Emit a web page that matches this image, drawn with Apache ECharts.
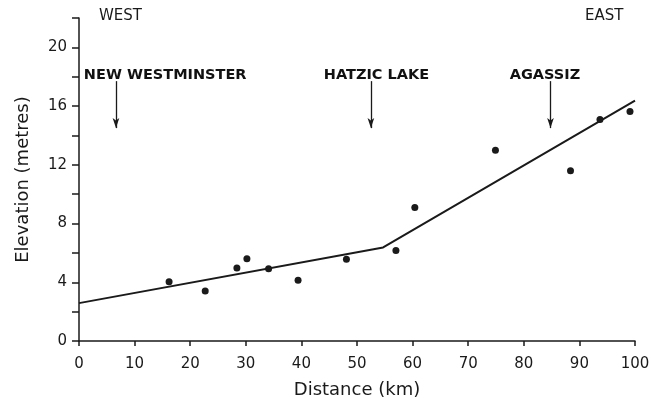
<!DOCTYPE html>
<html><head><meta charset="utf-8">
<script src="https://cdn.jsdelivr.net/npm/echarts@6/dist/echarts.min.js"></script>
<style>html,body{margin:0;padding:0;background:#fff}#c{width:653px;height:406px}</style>
</head><body><div id="c"></div>
<script>
const distance = [16.2, 22.7, 28.4, 30.2, 34.1, 39.4, 48.1, 57.0, 60.4, 74.9, 88.4, 93.7, 99.1];
const elevation = [4.03, 3.4, 4.97, 5.6, 4.92, 4.14, 5.57, 6.17, 9.1, 12.99, 11.59, 15.08, 15.63];
const fitX = [0, 54.7, 100];
const fitY = [2.58, 6.37, 16.37];
const placeNames = ['NEW WESTMINSTER', 'HATZIC LAKE', 'AGASSIZ'];
const placeX = [6.65, 52.5, 84.8];
const labelX = [15.5, 53.5, 83.8];
const arrowTop = 17.7, arrowTip = 14.5, labelY = 18.1;
const xTicks = [0,10,20,30,40,50,60,70,80,90,100];
const yLabels = [0,4,8,12,16,20];

const font = 'DejaVu Sans';
const ink = '#1a1a1a';
const chart = echarts.init(document.getElementById('c'));
chart.setOption({
  animation: false,
  backgroundColor: '#fff',
  grid: {left: 79, right: 18, top: 18, bottom: 65},
  xAxis: {
    type: 'value', min: 0, max: 100, interval: 10,
    name: 'Distance (km)', nameLocation: 'middle', nameGap: 40,
    nameTextStyle: {fontFamily: font, fontSize: 18, color: ink},
    axisLine: {lineStyle: {color: ink, width: 1.5}},
    axisTick: {show: true, length: 5, lineStyle: {color: ink, width: 1.5}},
    axisLabel: {fontFamily: font, fontSize: 15, color: ink, margin: 16,
      formatter: v => xTicks.includes(v) ? String(v) : ''},
    splitLine: {show: false}
  },
  yAxis: {
    type: 'value', min: 0, max: 22, interval: 2,
    name: 'Elevation (metres)', nameLocation: 'middle', nameGap: 47, nameRotate: 90,
    nameTextStyle: {fontFamily: font, fontSize: 18, color: ink},
    axisLine: {show: true, lineStyle: {color: ink, width: 1.5}},
    axisTick: {show: true, length: 7, lineStyle: {color: ink, width: 1.5}},
    axisLabel: {fontFamily: font, fontSize: 15, color: ink, margin: 12,
      formatter: v => yLabels.includes(v) ? String(v) : ''},
    splitLine: {show: false}
  },
  series: [
    {
      type: 'scatter', symbolSize: 7,
      itemStyle: {color: ink, opacity: 1},
      data: distance.map((d, i) => [d, elevation[i]])
    },
    {
      type: 'line', symbol: 'none',
      lineStyle: {color: ink, width: 2},
      data: fitX.map((d, i) => [d, fitY[i]]),
      markLine: {
        silent: true,
        symbol: ['none', 'arrow'], symbolSize: [5, 10],
        lineStyle: {color: ink, width: 1.3, type: 'solid', opacity: 1},
        label: {show: false},
        data: placeX.map(x => [{coord: [x, arrowTop]}, {coord: [x, arrowTip]}])
      }
    },
    {
      type: 'scatter', symbolSize: 0, silent: true,
      itemStyle: {opacity: 1},
      data: placeNames.map((n, i) => ({value: [labelX[i], labelY], name: n})),
      label: {show: true, position: 'inside', formatter: p => p.name,
        fontFamily: font, fontWeight: 'bold', fontSize: 14.5, color: '#111', opacity: 1}
    }
  ],
  graphic: [
    {type: 'text', left: 99, top: 9, style: {text: 'WEST', font: '15px "DejaVu Sans"', fill: ink}},
    {type: 'text', left: 585, top: 9, style: {text: 'EAST', font: '15px "DejaVu Sans"', fill: ink}}
  ]
});
</script></body></html>
